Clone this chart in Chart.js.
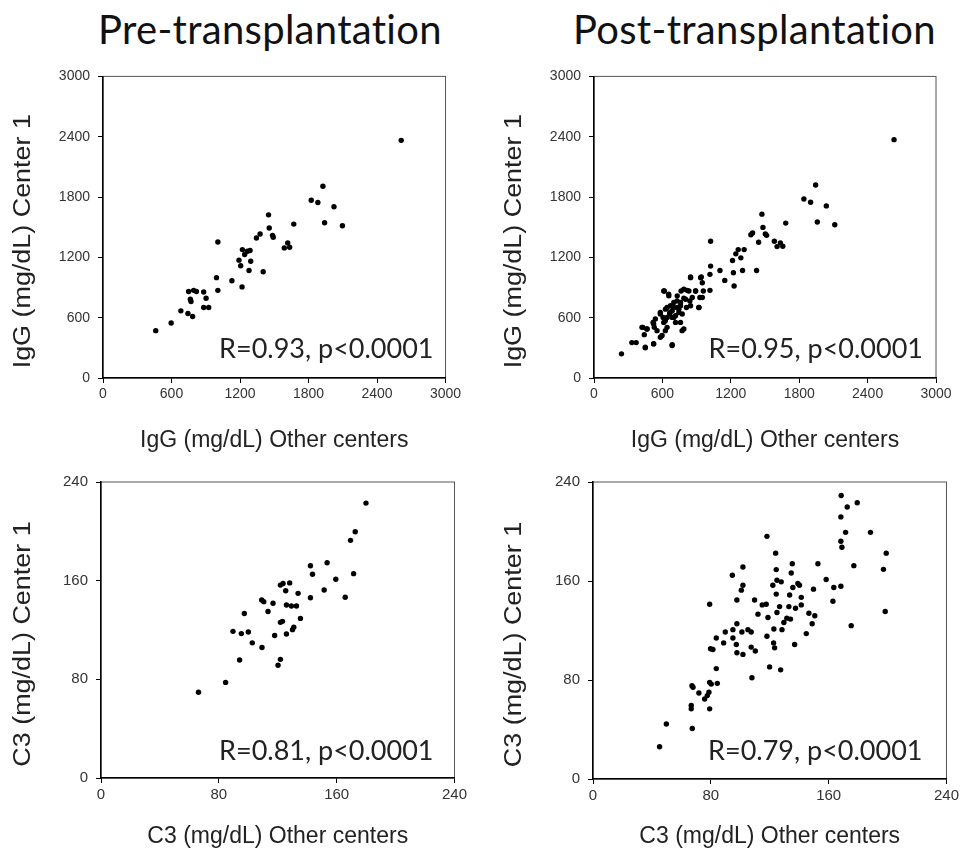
<!DOCTYPE html>
<html>
<head>
<meta charset="utf-8">
<script src="https://cdn.jsdelivr.net/npm/chart.js@4.4.1/dist/chart.umd.min.js"></script>
<style>
  body { margin: 0; background: #fff; width: 962px; height: 859px; position: relative; overflow: hidden; }
  .panel { position: absolute; }
  .head { position: absolute; top: 5px; font-family: Lato, "Open Sans", sans-serif; font-size: 40px; color: #111; white-space: nowrap; font-variant-ligatures: none; letter-spacing: 0.3px; }
</style>
</head>
<body>
<div class="head" style="left:98px">Pre-transplantation</div>
<div class="head" style="left:573px">Post-transplantation</div>
<div class="panel" style="left:0;top:60px;width:470px;height:400px"><canvas id="igPre"></canvas></div>
<div class="panel" style="left:490px;top:60px;width:472px;height:400px"><canvas id="igPost"></canvas></div>
<div class="panel" style="left:0;top:465px;width:480px;height:394px"><canvas id="c3Pre"></canvas></div>
<div class="panel" style="left:490px;top:465px;width:472px;height:394px"><canvas id="c3Post"></canvas></div>
<script>
// valores
const igTicks = [0, 600, 1200, 1800, 2400, 3000];
const c3Ticks = [0, 80, 160, 240];

// IgG pré-transplante
const igPreOther = [462,597,682,744,785,750,765,771,794,818,882,903,882,926,994,1006,1006,1129,1218,1191,1206,1221,1241,1265,1288,1294,1279,1403,1344,1376,1450,1456,1485,1491,1588,1618,1635,1671,1824,1882,1926,1941,2023,2097,2612];
const igPreCenter = [471,547,668,642,612,860,784,761,872,860,856,794,701,701,998,872,1353,968,906,1172,1116,1277,1228,1261,1268,1162,1070,1057,1393,1432,1623,1492,1419,1400,1294,1344,1301,1531,1768,1745,1907,1545,1703,1515,2364];

// IgG pós-transplante
const igPostOther = [241,332,370,450,429,441,465,518,529,523,582,582,606,626,626,617,655,641,665,685,685,700,715,729,744,759,764,773,788,811,817,841,847,891,920,941,959,929,1017,1017,1023,1023,1105,1147,1215,1229,1223,1244,1265,1288,1317,1303,1426,1376,1391,1444,1473,1482,1503,1514,1582,1606,1635,1656,1682,1841,1900,1944,1959,2038,2112,2632,
  450,523,686,421,465,523,538,597,612,641,664,686,700,730,744,759,774,788,759,803,832,847,862,847,920,891,950,935,950,612,656,582,627,671,700,730,788,715,641,553];
const igPostCenter = [240,352,352,300,504,431,487,553,504,339,405,636,603,570,471,866,833,701,652,603,323,701,619,767,685,718,866,471,794,701,872,767,1004,866,701,1004,866,800,872,1031,1113,1360,1070,971,1169,915,1047,1235,1277,1195,1277,1070,1070,1425,1442,1350,1630,1498,1432,1419,1360,1307,1344,1311,1541,1781,1748,1920,1551,1712,1525,2371,
  306,340,330,504,488,537,587,422,553,603,636,669,603,701,652,751,636,488,553,784,866,718,800,998,701,866,800,998,948,866,817,652,685,718,751,817,883,553,504,471];

// C3 pré-transplante
const c3PreOther = [66.2,84.6,94.1,89.6,95.3,100.0,97.3,102.7,109.3,109.1,110.5,113.4,116.8,117.9,120.2,121.8,121.8,123.2,121.8,123.6,125.4,125.9,125.9,128.1,129.3,130.0,130.9,132.7,133.8,135.4,142.2,143.6,142.2,151.5,153.5,159.4,165.8,171.5,169.4,172.6,179.9];
const c3PreCenter = [69.5,77.5,95.7,118.9,117.1,118.4,133.4,109.6,105.8,144.3,143.0,135.0,141.7,115.5,91.4,96.2,126.2,127.0,156.4,157.7,151.8,140.3,116.8,158.2,139.5,120.3,122.2,139.5,149.7,129.4,172.1,165.2,146.2,152.4,174.5,161.2,146.5,165.7,192.7,199.7,222.9];

// C3 pós-transplante
const c3PostOther = [45.2,49.8,67.4,66.7,66.7,67.2,67.9,71.9,75.8,77.6,78.7,79.2,79.2,80.3,84.4,83.7,79.2,79.8,81.4,83.7,88.7,89.8,94.6,95.0,95.0,97.7,97.7,97.3,97.7,101.8,101.1,101.8,100.7,101.8,105.2,107.4,107.4,110.2,109.7,107.9,112.0,114.9,117.6,118.1,118.8,118.1,119.9,122.1,122.8,122.6,123.3,124.0,124.4,124.9,124.4,124.9,127.4,127.8,126.7,128.3,129.6,131.6,133.0,133.5,134.1,135.3,134.6,135.7,136.9,137.5,139.1,140.2,141.4,141.4,144.8,146.6,148.8,149.7,150.6,152.7,158.3,162.9,163.5,168.5,168.3,172.6,179.4,171.5,168.3,169.0,168.3,175.3,177.1,188.4,197.2,199.1,198.4];
const c3PostCenter = [26.1,44.5,40.8,59.4,56.7,75.4,74.1,69.5,64.7,67.4,70.1,56.7,78.1,76.7,77.3,89.2,141.2,105.2,104.7,114.0,110.0,118.8,164.6,120.7,114.0,125.5,144.7,108.7,102.0,100.7,118.8,171.3,152.6,156.6,120.7,118.8,106.6,103.4,144.7,81.8,133.2,140.7,141.2,196.1,130.5,115.4,90.6,156.6,121.2,110.0,106.0,182.5,169.2,160.6,149.4,134.5,88.2,159.3,139.3,120.7,126.5,130.0,139.3,148.7,129.2,174.0,166.5,154.8,108.7,138.0,158.0,156.6,146.8,140.7,117.5,134.0,125.5,153.4,131.9,174.0,161.2,143.6,154.8,229.1,211.8,219.8,223.2,199.3,192.1,187.3,155.8,123.9,172.4,199.3,169.4,182.5,135.3];

// moldura, título do eixo y (esticado como no original) e o texto do R
const notePlugin = {
  id: 'note',
  beforeDraw(chart) {
    const a = chart.chartArea, ctx = chart.ctx;
    ctx.save();
    ctx.strokeStyle = '#555';
    ctx.lineWidth = 1;
    ctx.strokeRect(a.left, a.top, a.right - a.left, a.bottom - a.top);
    ctx.restore();
  },
  afterDraw(chart, args, opts) {
    const a = chart.chartArea, ctx = chart.ctx;
    ctx.save();
    ctx.font = '27px Lato, "Open Sans", sans-serif';
    ctx.fillStyle = '#222';
    ctx.textAlign = 'right';
    ctx.textBaseline = 'alphabetic';
    ctx.fillText(opts.text, a.right - opts.dx, a.bottom - opts.dy);
    ctx.restore();

    ctx.save();
    ctx.font = '23px "Liberation Sans", Arial, sans-serif';
    ctx.fillStyle = '#222';
    ctx.textAlign = 'center';
    ctx.textBaseline = 'middle';
    ctx.translate(opts.yTitleX, (a.top + a.bottom) / 2 + opts.yTitleShift);
    ctx.rotate(-Math.PI / 2);
    ctx.scale(1.17, 1);
    ctx.fillText(opts.yTitle, 0, 0);
    ctx.restore();
  }
};

function makeChart(id, xs, ys, ticks, cfg) {
  const pts = xs.map((x, i) => ({ x: x, y: ys[i] }));
  const tickFont = { family: 'Liberation Sans, Arial, sans-serif', size: cfg.tickSize };
  const titleFont = { family: 'Liberation Sans, Arial, sans-serif', size: 23 };
  return new Chart(document.getElementById(id), {
    type: 'scatter',
    data: { datasets: [{ data: pts, backgroundColor: '#000', borderWidth: 0, pointRadius: 2.7, pointStyle: 'circle' }] },
    plugins: [notePlugin],
    options: {
      responsive: true,
      maintainAspectRatio: false,
      animation: false,
      layout: { padding: { top: 14, right: cfg.padRight, bottom: 0, left: 0 } },
      plugins: {
        legend: { display: false },
        tooltip: { enabled: false },
        note: { text: cfg.note, dx: cfg.dx, dy: cfg.dy, yTitle: cfg.yTitle, yTitleX: cfg.yTitleX, yTitleShift: 14 }
      },
      scales: {
        x: {
          type: 'linear', min: ticks[0], max: ticks[ticks.length - 1],
          afterBuildTicks: s => { s.ticks = ticks.map(v => ({ value: v })); },
          afterFit: s => { s.height = cfg.xHeight; },
          grid: { drawOnChartArea: false, drawTicks: true, tickLength: 5, color: '#000' },
          border: { color: '#000', width: 1.5 },
          ticks: { color: '#333', font: tickFont, padding: 3, maxRotation: 0, callback: v => String(v) },
          title: { display: true, text: cfg.xTitle, color: '#222', font: titleFont, padding: { top: 0, bottom: cfg.xTitlePad } }
        },
        y: {
          type: 'linear', min: ticks[0], max: ticks[ticks.length - 1],
          afterBuildTicks: s => { s.ticks = ticks.map(v => ({ value: v })); },
          afterFit: s => { s.width = cfg.yWidth; },
          grid: { drawOnChartArea: false, drawTicks: true, tickLength: 5, color: '#000' },
          border: { color: '#000', width: 1.5 },
          ticks: { color: '#333', font: tickFont, padding: 8, callback: v => String(v) }
        }
      }
    }
  });
}

makeChart('igPre', igPreOther, igPreCenter, igTicks, {
  xTitle: 'IgG (mg/dL) Other centers', yTitle: 'IgG (mg/dL) Center 1', note: 'R=0.93, p<0.0001',
  yWidth: 103, xHeight: 82, padRight: 24.5, xTitlePad: 6, tickSize: 14, dx: 12, dy: 20, yTitleX: 24
});
makeChart('igPost', igPostOther, igPostCenter, igTicks, {
  xTitle: 'IgG (mg/dL) Other centers', yTitle: 'IgG (mg/dL) Center 1', note: 'R=0.95, p<0.0001',
  yWidth: 104, xHeight: 82, padRight: 26, xTitlePad: 6, tickSize: 14, dx: 13, dy: 20, yTitleX: 25
});
makeChart('c3Pre', c3PreOther, c3PreCenter, c3Ticks, {
  xTitle: 'C3 (mg/dL) Other centers', yTitle: 'C3 (mg/dL) Center 1', note: 'R=0.81, p<0.0001',
  yWidth: 101, xHeight: 81, padRight: 25.5, xTitlePad: 9, tickSize: 15, dx: 21, dy: 18, yTitleX: 24
});
makeChart('c3Post', c3PostOther, c3PostCenter, c3Ticks, {
  xTitle: 'C3 (mg/dL) Other centers', yTitle: 'C3 (mg/dL) Center 1', note: 'R=0.79, p<0.0001',
  yWidth: 103, xHeight: 80, padRight: 15, xTitlePad: 9, tickSize: 15, dx: 24, dy: 19, yTitleX: 25
});
</script>
</body>
</html>
